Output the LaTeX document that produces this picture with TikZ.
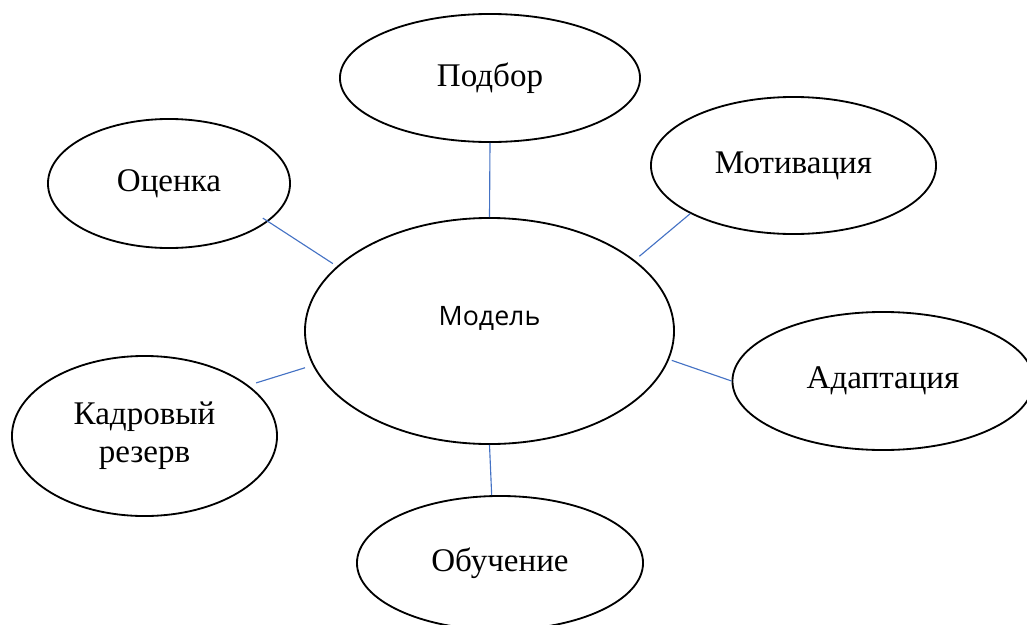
\documentclass[tikz,border=0pt]{standalone}
\usepackage{fontspec}
\setmainfont{Liberation Serif}
\newfontfamily\modelfont{Open Sans}
\usepackage{xcolor}
\usetikzlibrary{shapes.geometric, positioning, calc}
\definecolor{linkblue}{HTML}{4472C4}
\tikzset{
    topic/.style={
        ellipse,
        draw=black,
        line width=1.3pt,
        inner sep=0pt,
        align=center,
        font=\fontsize{23.5}{27}\selectfont
    },
    core/.style={
        ellipse,
        draw=black,
        line width=1.3pt,
        inner sep=0pt,
        minimum width=9.225cm,
        minimum height=5.65cm,
        text depth=0.75cm,
        font=\modelfont\fontsize{19}{22}\selectfont
    },
    link/.style={
        draw=linkblue,
        line width=0.8pt
    }
}
\begin{document}
\begin{tikzpicture}[x=0.025cm, y=-0.025cm]
\useasboundingbox (0,0) rectangle (1027,625);

% Central node
\node[core] (model) at (489.5,331) {Модель};

% Topics
\node[topic, minimum width=7.5cm, minimum height=3.2cm] (podbor) at (490,78) {Подбор};
\node[topic, minimum width=7.125cm, minimum height=3.425cm] (motiv) at (793.5,165.5) {Мотивация};
\node[topic, minimum width=6.05cm, minimum height=3.225cm] (ocenka) at (169,183.5) {Оценка};
\node[topic, minimum width=7.525cm, minimum height=3.45cm] (adapt) at (883,381) {Адаптация};
\node[topic, minimum width=6.625cm, minimum height=4cm] (kadr) at (144.5,436) {Кадровый\\резерв};
\node[topic, minimum width=7.15cm, minimum height=3.35cm] (obuch) at (500,563) {Обучение};

% Connections
\draw[link] (podbor.south) -- (model.north);
\draw[link, shorten >=0.15cm] (motiv.205.8) -- (model.26);
\draw[link, shorten <=-0.16cm, shorten >=0.12cm] (ocenka.339.6) -- (model.157.6);
\draw[link, shorten <=0.07cm] (model.351.9) -- (adapt.west);
\draw[link, shorten <=0.2cm, shorten >=0.2cm] (kadr.26.9) -- (model.191.1);
\draw[link] (model.south) -- (obuch.97.7);

\end{tikzpicture}
\end{document}
